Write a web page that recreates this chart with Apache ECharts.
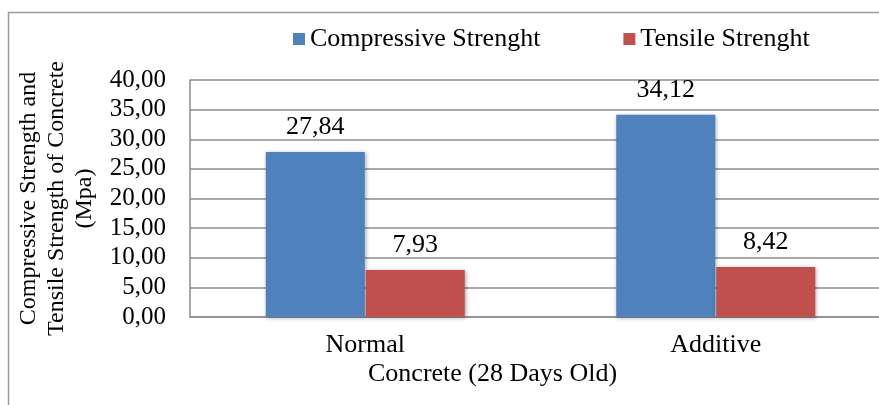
<!DOCTYPE html>
<html>
<head>
<meta charset="utf-8">
<script src="https://cdn.jsdelivr.net/npm/echarts@6/dist/echarts.min.js"></script>
<style>
html,body{margin:0;padding:0;overflow:hidden;background:#fff;}
html{width:879px;height:405px;}
body{width:900px;height:405px;}
#chart{width:900px;height:405px;}
</style>
</head>
<body>
<div id="chart"></div>
<script>
const categories = ['Normal', 'Additive'];
const compressive = [27.84, 34.12];
const tensile = [7.93, 8.42];
const seriesNames = ['Compressive Strenght', 'Tensile Strenght'];
const yTickLabels = ['0,00', '5,00', '10,00', '15,00', '20,00', '25,00', '30,00', '35,00', '40,00'];
const yAxisTitle = 'Compressive Strength and\nTensile Strength of Concrete\n(Mpa)';
const xAxisTitle = 'Concrete (28 Days Old)';

const FONT = "'Liberation Serif', 'Times New Roman', serif";
const fmt = v => v.toFixed(2).replace('.', ',');

const chart = echarts.init(document.getElementById('chart'), null, {renderer: 'canvas'});
const barShadow = {shadowBlur: 4, shadowColor: 'rgba(0,0,0,0.35)', shadowOffsetX: 1, shadowOffsetY: 1};
chart.setOption({
  animation: false,
  backgroundColor: '#fff',
  graphic: [
    {type: 'polyline', shape: {points: [[8.5, 420], [8.5, 12.5], [900, 12.5]]},
     style: {fill: 'none', stroke: '#9a9a9a', lineWidth: 1.5}, z: 0},
    {type: 'text', left: 368, top: 361,
     style: {text: xAxisTitle, font: '26px ' + FONT, fill: '#000'}}
  ],
  legend: {
    left: 288, top: 21,
    icon: 'rect', itemWidth: 12, itemHeight: 12, itemGap: 83,
    textStyle: {fontFamily: FONT, fontSize: 26, color: '#000'},
    data: seriesNames
  },
  grid: {left: 190, right: 9, top: 80, bottom: 88},
  xAxis: {
    type: 'category', data: categories,
    axisLine: {show: true, lineStyle: {color: '#8c8c8c', width: 1.5}},
    axisTick: {show: false},
    axisLabel: {fontFamily: FONT, fontSize: 26, color: '#000', margin: 15}
  },
  yAxis: {
    type: 'value', min: 0, max: 40, interval: 5,
    name: yAxisTitle, nameLocation: 'middle', nameGap: 89, nameRotate: 90,
    nameTextStyle: {fontFamily: FONT, fontSize: 24, color: '#000', lineHeight: 28, align: 'center'},
    axisLine: {show: true, lineStyle: {color: '#8c8c8c', width: 1.5}},
    axisTick: {show: false},
    axisLabel: {fontFamily: FONT, fontSize: 25, color: '#000', margin: 24,
      formatter: (v, i) => yTickLabels[i]},
    splitLine: {show: true, lineStyle: {color: '#8c8c8c', width: 1.5}}
  },
  series: [
    {name: seriesNames[0], type: 'bar', data: compressive, barWidth: 99, barGap: '1%',
     itemStyle: Object.assign({color: '#4F81BD'}, barShadow),
     label: {show: true, position: 'top', distance: 12, fontFamily: FONT, fontSize: 26, color: '#000',
       formatter: p => fmt(p.value)}},
    {name: seriesNames[1], type: 'bar', data: tensile, barWidth: 99, barGap: '1%',
     itemStyle: Object.assign({color: '#C0504D'}, barShadow),
     label: {show: true, position: 'top', distance: 12, fontFamily: FONT, fontSize: 26, color: '#000',
       formatter: p => fmt(p.value)}}
  ]
});
</script>
</body>
</html>
